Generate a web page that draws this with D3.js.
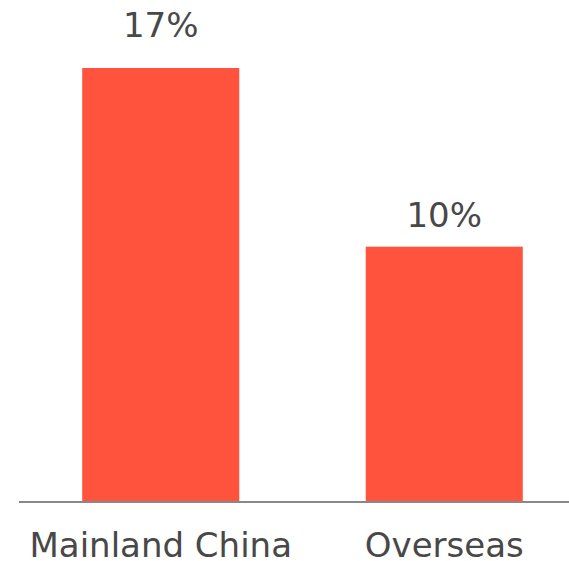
<!DOCTYPE html>
<html>
<head>
<meta charset="utf-8">
<script src="https://cdn.jsdelivr.net/npm/d3@7"></script>
<style>
  body { margin: 0; background: #fff; }
  svg { display: block; }
</style>
</head>
<body>
<div id="chart"></div>
<script>
var categories = ["Mainland China", "Overseas"];
var values = [17, 10];
var valueLabels = ["17%", "10%"];

var width = 569, height = 561;
var baseY = 502;

var svg = d3.select("#chart")
    .append("svg")
    .attr("width", width)
    .attr("height", height);

// x: band scale, range runs a bit past the right edge like the original
var x = d3.scaleBand()
    .domain(categories)
    .range([19, 586])
    .paddingInner(0.446)
    .paddingOuter(0.223);

var y = d3.scaleLinear()
    .domain([0, 17])
    .range([baseY, 68]);

// label baseline scale (labels sit a bit further up on taller bars)
var yLabel = d3.scaleLinear()
    .domain([0, 17])
    .range([498, 37]);

// bars
svg.selectAll("rect.bar")
    .data(values)
    .enter().append("rect")
    .attr("class", "bar")
    .attr("x", function(d, i) { return x(categories[i]); })
    .attr("y", function(d) { return y(d); })
    .attr("width", x.bandwidth())
    .attr("height", function(d) { return baseY - y(d); })
    .style("fill", "#ff533d");

// baseline
svg.append("line")
    .attr("x1", 19)
    .attr("x2", width)
    .attr("y1", baseY)
    .attr("y2", baseY)
    .style("stroke", "#888")
    .style("stroke-width", 2);

// value labels
svg.selectAll("text.value")
    .data(values)
    .enter().append("text")
    .attr("class", "value")
    .attr("x", function(d, i) { return x(categories[i]) + x.bandwidth() / 2; })
    .attr("y", function(d) { return yLabel(d); })
    .style("text-anchor", "middle")
    .style("font-family", "'DejaVu Sans', sans-serif")
    .style("font-size", "34px")
    .style("fill", "#484848")
    .text(function(d, i) { return valueLabels[i]; });

// category labels
svg.selectAll("text.cat")
    .data(categories)
    .enter().append("text")
    .attr("class", "cat")
    .attr("x", function(d) { return x(d) + x.bandwidth() / 2; })
    .attr("y", baseY + 55)
    .style("text-anchor", "middle")
    .style("font-family", "'DejaVu Sans', sans-serif")
    .style("font-size", "34px")
    .style("fill", "#484848")
    .text(function(d) { return d; });
</script>
</body>
</html>
